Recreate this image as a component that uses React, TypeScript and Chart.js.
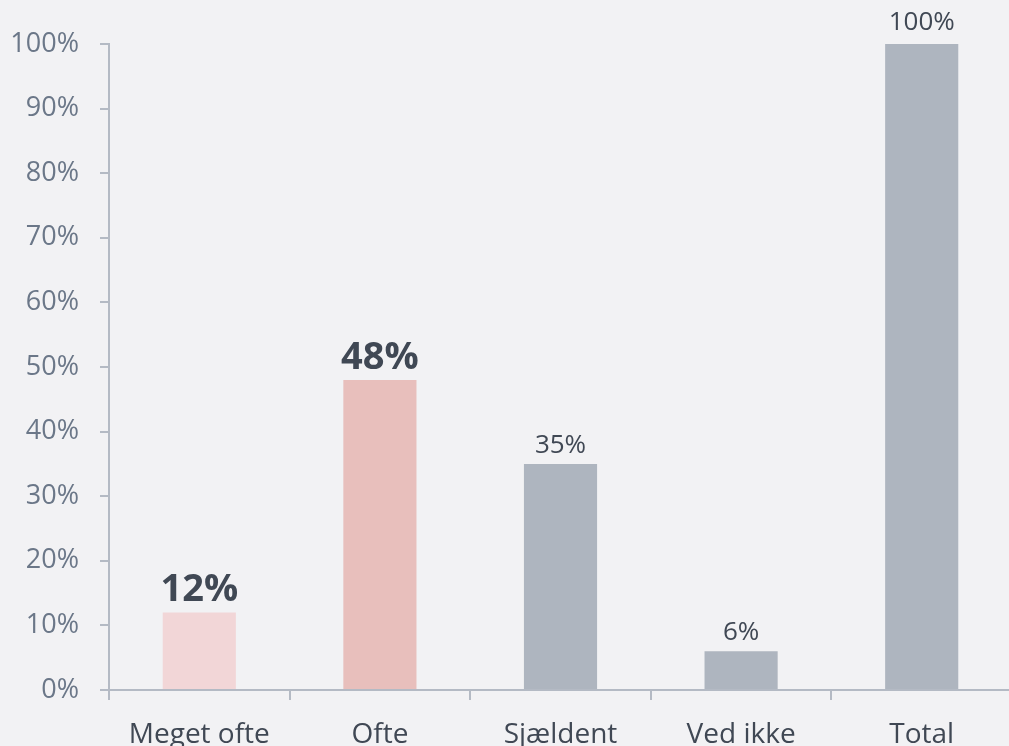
import React, { useEffect, useRef } from "react";
import { Chart, registerables } from "chart.js";

Chart.register(...registerables);

const categories = ["Meget ofte", "Ofte", "Sjældent", "Ved ikke", "Total"];
const values = [12, 48, 35, 6, 100];
const barColors = ["#f2d6d7", "#e8bfbc", "#aeb5bf", "#aeb5bf", "#aeb5bf"];
const emphasized = [true, true, false, false, false];
const yTicks = [0, 10, 20, 30, 40, 50, 60, 70, 80, 90, 100];

const FONT = "'Open Sans', 'DejaVu Sans', sans-serif";
const BG = "#f2f2f4";
const AXIS = "#b4bac4";

const bgPlugin = {
  id: "bg",
  beforeDraw(chart: any) {
    const ctx = chart.ctx;
    ctx.save();
    ctx.fillStyle = BG;
    ctx.fillRect(0, 0, chart.width, chart.height);
    ctx.restore();
  },
};

const labelPlugin = {
  id: "valueLabels",
  afterDatasetsDraw(chart: any) {
    const ctx = chart.ctx;
    const meta = chart.getDatasetMeta(0);
    ctx.save();
    ctx.textAlign = "center";
    ctx.textBaseline = "alphabetic";
    ctx.fillStyle = "#404854";
    meta.data.forEach((bar: any, i: number) => {
      const big = emphasized[i];
      ctx.font = big ? `bold 38px ${FONT}` : `26px ${FONT}`;
      ctx.fillText(values[i] + "%", bar.x, bar.y - (values[i] >= 100 ? 14 : 11));
    });
    ctx.restore();
  },
};

export default function App() {
  const ref = useRef<HTMLCanvasElement>(null);
  useEffect(() => {
    if (!ref.current) return;
    const chart = new Chart(ref.current, {
      type: "bar",
      data: {
        labels: categories,
        datasets: [
          {
            data: values,
            backgroundColor: barColors,
            borderWidth: 0,
            barPercentage: 0.405,
            categoryPercentage: 1,
          },
        ],
      },
      options: {
        responsive: false,
        animation: false,
        layout: { padding: { top: 44, left: 0, right: 0, bottom: 0 } },
        plugins: {
          legend: { display: false },
          tooltip: { enabled: false },
        },
        scales: {
          x: {
            offset: true,
            grid: {
              offset: true,
              drawOnChartArea: false,
              drawTicks: true,
              tickLength: 10,
              color: AXIS,
              lineWidth: 2,
            },
            border: { color: AXIS, width: 2 },
            ticks: {
              color: "#404854",
              font: { family: FONT, size: 28 },
              padding: 18,
              maxRotation: 0,
            },
            afterFit(scale: any) {
              scale.height = 56;
            },
          },
          y: {
            min: 0,
            max: 100,
            afterBuildTicks(scale: any) {
              scale.ticks = yTicks.map((v) => ({ value: v }));
            },
            grid: {
              drawOnChartArea: false,
              drawTicks: true,
              tickLength: 9,
              color: AXIS,
              lineWidth: 2,
            },
            border: { color: AXIS, width: 2 },
            ticks: {
              color: "#6b7788",
              font: { family: FONT, size: 27 },
              padding: 21,
              callback: (v: any) => v + "%",
            },
            afterFit(scale: any) {
              scale.width = 109;
            },
          },
        },
      },
      plugins: [bgPlugin, labelPlugin],
    });
    return () => chart.destroy();
  }, []);
  return (
    <div
      style={{
        position: "absolute",
        left: 0,
        top: 0,
        width: 1009,
        height: 746,
        overflow: "hidden",
        background: BG,
      }}
    >
      <canvas
        ref={ref}
        width={1012}
        height={746}
        style={{ display: "block" }}
      />
    </div>
  );
}
